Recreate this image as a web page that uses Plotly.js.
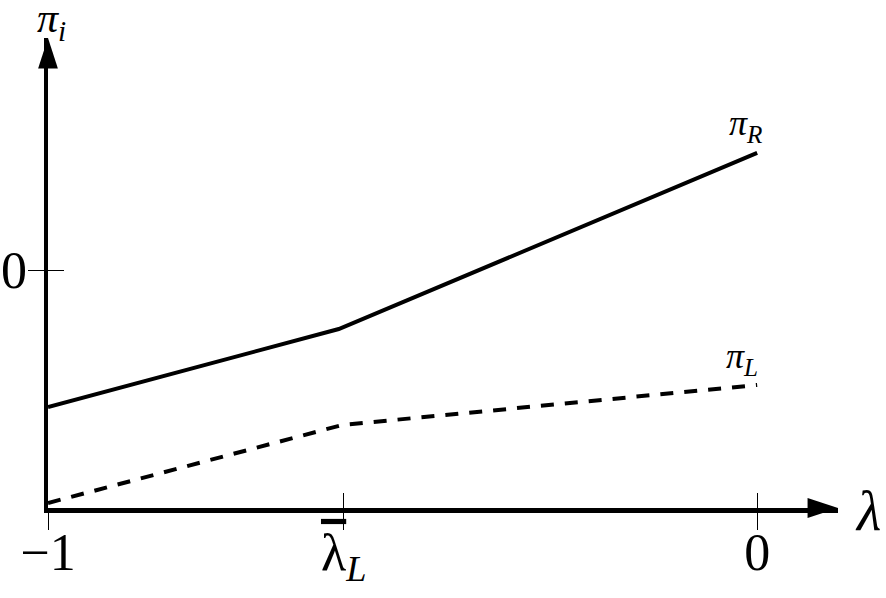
<!DOCTYPE html>
<html>
<head>
<meta charset="utf-8">
<script src="https://cdn.plot.ly/plotly-3.0.1.min.js"></script>
<style>
  html, body { margin: 0; padding: 0; background: #fff; }
  #plot1 { width: 886px; height: 598px; }
</style>
</head>
<body>
<div id="plot1"></div>
<script>
// lambda values: -1, the kink (lambda bar L) and 0
var lambdaR = [-1, -0.59, 0];
var piR = [-0.576, -0.248, 0.492];
var lambdaL = [-1, -0.585, 0];
var piL = [-0.979, -0.651, -0.483];

var xTickVals = [-1, -0.583, 0];
var xTickText = ['\u22121', '<span style="text-decoration:overline">\u03BB</span><sub><i>L</i></sub>', '0'];
var yTickVals = [0];
var yTickText = ['0'];

// axis ends (origin at -1, -1)
var xMin = -1, xMax = 0.114;
var yMin = -1, yMax = 0.975;

var serif = '"Liberation Serif", "DejaVu Serif", serif';

var traceR = {
  x: lambdaR,
  y: piR,
  mode: 'lines',
  line: {color: 'black', width: 4},
  name: 'pi_R',
};
var traceL = {
  x: lambdaL,
  y: piL,
  mode: 'lines',
  line: {color: 'black', width: 4, dash: '13px,11px'},
  name: 'pi_L',
};
var arrows = {
  x: [xMin, xMax],
  y: [yMax, yMin],
  mode: 'markers',
  marker: {symbol: 'arrow', size: 32, angle: [0, 90], color: 'black'},
  cliponaxis: false,
  hoverinfo: 'skip',
};
// hidden trace so the overlay axes (inner half of the ticks) get drawn
var tickHelper = {
  x: [xMin],
  y: [yMin],
  xaxis: 'x2',
  yaxis: 'y2',
  mode: 'markers',
  marker: {opacity: 0},
  hoverinfo: 'skip',
};

var data = [traceR, traceL, arrows, tickHelper];
var layout = {
  width: 886,
  height: 598,
  showlegend: false,
  paper_bgcolor: 'white',
  plot_bgcolor: 'white',
  margin: {l: 48, r: 48, t: 38, b: 90},
  font: {family: serif, color: 'black', size: 40},
  xaxis: {
    range: [xMin, xMax],
    showgrid: false,
    zeroline: false,
    showline: true,
    linewidth: 4.5,
    linecolor: 'black',
    ticks: 'outside',
    ticklen: 17,
    tickwidth: 1,
    tickcolor: 'black',
    tickvals: xTickVals,
    ticktext: xTickText,
    tickfont: {size: 52},
    ticklabelstandoff: -22,
    fixedrange: true,
  },
  xaxis2: {
    range: [xMin, xMax],
    overlaying: 'x',
    anchor: 'y2',
    side: 'bottom',
    showgrid: false,
    zeroline: false,
    ticks: 'inside',
    ticklen: 15,
    tickwidth: 1,
    tickcolor: 'black',
    tickvals: xTickVals,
    showticklabels: false,
    fixedrange: true,
  },
  yaxis: {
    range: [yMin, yMax],
    showgrid: false,
    zeroline: false,
    showline: true,
    linewidth: 4.5,
    linecolor: 'black',
    ticks: 'outside',
    ticklen: 16,
    tickwidth: 1,
    tickcolor: 'black',
    tickvals: yTickVals,
    ticktext: yTickText,
    tickfont: {size: 52},
    ticklabelstandoff: -10,
    fixedrange: true,
  },
  yaxis2: {
    range: [yMin, yMax],
    overlaying: 'y',
    anchor: 'x2',
    side: 'left',
    showgrid: false,
    zeroline: false,
    ticks: 'inside',
    ticklen: 16,
    tickwidth: 1,
    tickcolor: 'black',
    tickvals: yTickVals,
    showticklabels: false,
    fixedrange: true,
  },
  annotations: [
    {x: 0.005, y: 1.036, xref: 'paper', yref: 'paper', xanchor: 'center', yanchor: 'middle',
     showarrow: false, text: '<i>\u03C0</i><sub><i>i</i></sub>', font: {size: 42}},
    {x: 1.038, y: -0.006, xref: 'paper', yref: 'paper', xanchor: 'center', yanchor: 'middle',
     showarrow: false, text: '<i>\u03BB</i>', font: {size: 56}},
    {x: -0.017, y: 0.609, xref: 'x', yref: 'y', showarrow: false,
     text: '<i>\u03C0</i><sub><i>R</i></sub>', font: {size: 36}},
    {x: -0.022, y: -0.37, xref: 'x', yref: 'y', showarrow: false,
     text: '<i>\u03C0</i><sub><i>L</i></sub>', font: {size: 36}},
  ],
};
Plotly.newPlot('plot1', data, layout, {staticPlot: true});
</script>
</body>
</html>
